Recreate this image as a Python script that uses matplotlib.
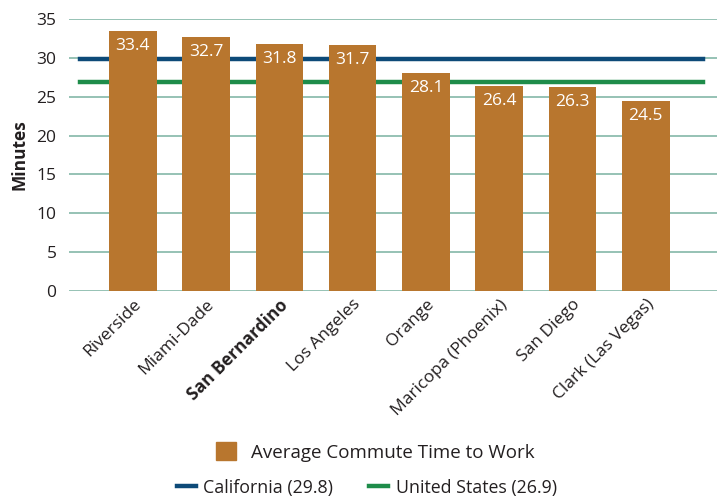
import matplotlib.pyplot as plt
from matplotlib.patches import Patch
from matplotlib.lines import Line2D
from numpy import arange

plt.rcParams['font.family'] = ['Open Sans', 'DejaVu Sans']

counties = ['Riverside', 'Miami-Dade', 'San Bernardino', 'Los Angeles', 'Orange',
            'Maricopa (Phoenix)', 'San Diego', 'Clark (Las Vegas)']
commute = [33.4, 32.7, 31.8, 31.7, 28.1, 26.4, 26.3, 24.5]
california = 29.8
united_states = 26.9
yticks = [0, 5, 10, 15, 20, 25, 30, 35]

bar_col = '#B8762E'
ca_col = '#0D4A78'
us_col = '#1E8C4A'
grid_col = '#8DBDAF'
txt_col = '#231F20'

fig = plt.figure(figsize=(7.19, 5), dpi=100)
ax = fig.add_axes([0.096, 0.418, 0.901, 0.544])

x_pos = arange(len(counties))
ax.set_xlim(-0.87, 7.97)
ax.set_ylim(0, 35)
ax.set_yticks(yticks)
for y in yticks:
    ax.axhline(y, color=grid_col, lw=1.3, zorder=0)

ax.plot([-0.72, 7.78], [california, california], color=ca_col, lw=3.2, zorder=1)
ax.plot([-0.72, 7.78], [united_states, united_states], color=us_col, lw=3.2, zorder=1)

bars = ax.bar(x_pos, commute, width=0.65, color=bar_col, zorder=2)
for b, v in zip(bars, commute):
    ax.annotate('%.1f' % v, (b.get_x() + b.get_width() / 2, v), xytext=(0, -5),
                textcoords='offset points', ha='center', va='top',
                color='white', fontsize=12.5, zorder=3)

for s in ax.spines.values():
    s.set_visible(False)
ax.tick_params(axis='both', length=0, labelsize=12.5, colors=txt_col)
ax.tick_params(axis='y', pad=9)
ax.tick_params(axis='x', pad=4)
ax.set_xticks(x_pos)
ax.set_xticklabels(counties, rotation=45, ha='right', rotation_mode='anchor')
for lab in ax.get_xticklabels():
    if lab.get_text() == 'San Bernardino':
        lab.set_fontweight('bold')
ax.set_ylabel('Minutes', fontsize=12.5, fontweight='bold', color=txt_col)
ax.yaxis.set_label_coords(-0.063, 0.5)

fig.legend(handles=[Patch(color=bar_col, label='Average Commute Time to Work')],
           loc='center', bbox_to_anchor=(0.522, 0.096), frameon=False,
           fontsize=13.5, handlelength=1.1, handleheight=1.1, handletextpad=0.8,
           labelcolor=txt_col)
fig.legend(handles=[Line2D([], [], color=ca_col, lw=3.2, label='California (29.8)'),
                    Line2D([], [], color=us_col, lw=3.2, label='United States (26.9)')],
           loc='center', bbox_to_anchor=(0.51, 0.025), ncol=2, frameon=False,
           fontsize=12.8, handlelength=1.1, handletextpad=0.4, columnspacing=2.0,
           labelcolor=txt_col)

plt.savefig('out.png', dpi=100)
